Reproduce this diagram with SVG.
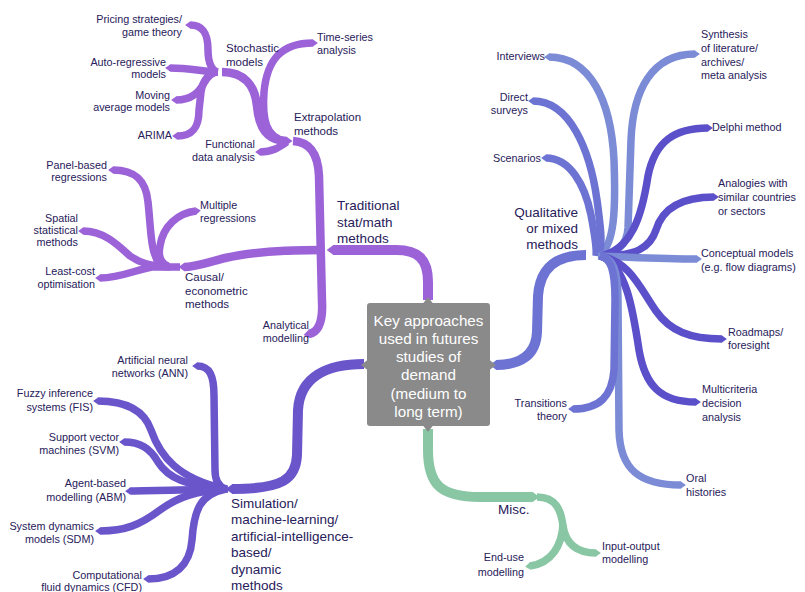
<svg xmlns="http://www.w3.org/2000/svg" width="805" height="592" viewBox="0 0 805 592">
<defs>
<style>
.c{fill:none;stroke-linecap:butt;stroke-linejoin:round}
.tr{stroke:#9c62d8}.sm{stroke:#6a55cb}.q1{stroke:#7b8bd6}.q2{stroke:#6c73d2}.q3{stroke:#5b50c9}.mi{stroke:#88c6a4}
.w1{stroke-width:10}.w2{stroke-width:8.5}.w3{stroke-width:7.5}
text{font-family:"Liberation Sans",Arial,sans-serif;fill:#27205a}
.s{font-size:10.8px}.m{font-size:11.5px}.b{font-size:13.5px}
.e{text-anchor:end}
.box{font-size:15.2px;fill:#ffffff;text-anchor:middle}
</style>
<marker id="mtr" markerUnits="strokeWidth" markerWidth="0.7" markerHeight="1" viewBox="0 0 0.7 1" refX="0.05" refY="0.5" orient="auto-start-reverse"><path d="M0,0 L0.7,0.5 L0,1 Z" fill="#9c62d8"/></marker>
<marker id="msm" markerUnits="strokeWidth" markerWidth="0.7" markerHeight="1" viewBox="0 0 0.7 1" refX="0.05" refY="0.5" orient="auto-start-reverse"><path d="M0,0 L0.7,0.5 L0,1 Z" fill="#6a55cb"/></marker>
<marker id="mq1" markerUnits="strokeWidth" markerWidth="0.7" markerHeight="1" viewBox="0 0 0.7 1" refX="0.05" refY="0.5" orient="auto-start-reverse"><path d="M0,0 L0.7,0.5 L0,1 Z" fill="#7b8bd6"/></marker>
<marker id="mq2" markerUnits="strokeWidth" markerWidth="0.7" markerHeight="1" viewBox="0 0 0.7 1" refX="0.05" refY="0.5" orient="auto-start-reverse"><path d="M0,0 L0.7,0.5 L0,1 Z" fill="#6c73d2"/></marker>
<marker id="mq3" markerUnits="strokeWidth" markerWidth="0.7" markerHeight="1" viewBox="0 0 0.7 1" refX="0.05" refY="0.5" orient="auto-start-reverse"><path d="M0,0 L0.7,0.5 L0,1 Z" fill="#5b50c9"/></marker>
<marker id="mmi" markerUnits="strokeWidth" markerWidth="0.7" markerHeight="1" viewBox="0 0 0.7 1" refX="0.05" refY="0.5" orient="auto-start-reverse"><path d="M0,0 L0.7,0.5 L0,1 Z" fill="#88c6a4"/></marker>
</defs>
<rect width="805" height="592" fill="#ffffff"/>

<g id="connectors">
  <!-- Traditional -->
  <path class="c tr w1" marker-end="url(#mtr)" d="M428,300 L428,282 C428,259 418,250 396,250 L333,250"/>
  <path class="c tr w2" marker-start="url(#mtr)" d="M309,334 C319,332 323,322 322,302 L319,176 C318,154 310,142 293,141"/>
  <path class="c tr w2" marker-end="url(#mtr)" d="M322,250 C285,250 250,252 225,258 C205,263 195,267 184,267"/>
  <path class="c tr w3" marker-start="url(#mtr)" d="M113,170 C135,170 146,180 148,202 C151,228 150,252 160,265"/>
  <path class="c tr w3" marker-start="url(#mtr)" d="M196,211 C178,213 163,226 160,246 C158,256 160,263 168,266"/>
  <path class="c tr w3" marker-start="url(#mtr)" d="M83,231 C104,231 118,245 130,256 C140,263 150,266 170,267"/>
  <path class="c tr w3" marker-start="url(#mtr)" d="M100,278 C120,278 135,270 152,267 L180,267"/>
  <!-- Stochastic -->
  <path class="c tr w3" marker-start="url(#mtr)" d="M190,25 C204,25 208,35 208,50 C208,63 212,71 218,72"/>
  <path class="c tr w3" marker-start="url(#mtr)" d="M170,68 C190,68 205,72 218,72"/>
  <path class="c tr w3" marker-start="url(#mtr)" d="M176,100 C192,100 199,92 204,83 C208,76 213,72 218,72"/>
  <path class="c tr w3" marker-start="url(#mtr)" d="M177,136 C194,136 199,126 199,110 L201,92 C203,79 210,72 218,72"/>
  <path class="c tr w2" marker-end="url(#mtr)" d="M222,72 C244,72 255,85 257,106 C259,130 268,141 287,141"/>
  <path class="c tr w3" marker-start="url(#mtr)" d="M313,43 C281,43 267,60 264,92 C262,120 266,137 285,141"/>
  <path class="c tr w3" marker-start="url(#mtr)" d="M260,152 C272,152 278,148 287,142"/>
  <!-- Simulation -->
  <path class="c sm w1" marker-end="url(#msm)" d="M364,364 C328,364 300,376 298,410 L297,455 C296,479 283,489 232,489"/>
  <path class="c sm w3" marker-start="url(#msm)" d="M197,366 C210,366 214,376 214,396 L215,470 C215,481 219,487 226,489"/>
  <path class="c sm w3" marker-start="url(#msm)" d="M98,401 C125,401 144,410 151,430 C160,456 178,479 226,489"/>
  <path class="c sm w3" marker-start="url(#msm)" d="M124,442 C140,442 150,448 158,462 C168,478 186,486 226,489"/>
  <path class="c sm w3" marker-start="url(#msm)" d="M130,491 C160,490 195,490 228,489"/>
  <path class="c sm w3" marker-start="url(#msm)" d="M100,531 C125,531 140,525 160,510 C178,497 196,491 226,489"/>
  <path class="c sm w3" marker-start="url(#msm)" d="M148,579 C175,579 190,565 192,540 C194,510 200,494 226,489"/>
  <!-- Qualitative -->
  <path class="c q2 w1" marker-end="url(#mq2)" d="M586,255 C556,255 540,268 538,296 L537,332 C536,355 521,365 496,365"/>
  <path class="c q1 w3" marker-start="url(#mq1)" d="M549,57 C590,57 611,100 614,160 C616,212 614,244 600,255"/>
  <path class="c q2 w3" marker-start="url(#mq2)" d="M533,101 C570,101 590,150 597,200 C601,230 603,246 598,255"/>
  <path class="c q2 w3" marker-start="url(#mq2)" d="M546,158 C570,158 585,185 591,215 C595,236 597,249 596,256"/>
  <path class="c q1 w3" marker-start="url(#mq1)" d="M695,54 C652,54 633,90 631,140 L628,228 C627,245 616,255 600,255"/>
  <path class="c q3 w3" marker-start="url(#mq3)" d="M708,128 C675,128 655,141 648,176 C642,215 632,250 600,256"/>
  <path class="c q3 w3" marker-start="url(#mq3)" d="M714,197 C680,197 662,210 656,230 C650,248 636,256 600,256"/>
  <path class="c q1 w3" marker-start="url(#mq1)" d="M697,259 C660,259 630,257 598,256"/>
  <path class="c q3 w3" marker-start="url(#mq3)" d="M722,339 C690,339 670,331 656,311 C641,290 630,261 600,256"/>
  <path class="c q3 w3" marker-start="url(#mq3)" d="M696,402 C660,402 645,385 639,350 C633,310 626,264 600,256"/>
  <path class="c q1 w3" marker-start="url(#mq1)" d="M681,485 C640,485 620,470 619,430 L618,300 C618,270 613,258 600,256"/>
  <path class="c q2 w3" marker-start="url(#mq2)" d="M573,409 C600,409 612,396 614,370 L615,300 C615,270 611,258 600,256"/>
  <!-- Misc -->
  <path class="c mi w1" marker-end="url(#mmi)" d="M428,429 L428,450 C428,485 441,497 480,497 L533,497"/>
  <path class="c mi w3" marker-end="url(#mmi)" d="M537,497 C556,497 561,510 563,526 C566,545 578,553 596,553"/>
  <path class="c mi w3" marker-end="url(#mmi)" d="M563,524 C562,545 552,563 530,566"/>
</g>

<g id="center">
  <rect x="367" y="303" width="123" height="123" rx="3" fill="#8a8a8a"/>
  <polygon points="423,303.5 428,297 433,303.5" fill="#8a8a8a"/>
  <polygon points="367.5,360 361,365 367.5,370" fill="#8a8a8a"/>
  <polygon points="489.5,360 496,365 489.5,370" fill="#8a8a8a"/>
  <polygon points="423,425.5 428,432 433,425.5" fill="#8a8a8a"/>
  <text class="box" x="428.5" y="326">Key approaches</text>
  <text class="box" x="428.5" y="344">used in futures</text>
  <text class="box" x="428.5" y="362">studies of</text>
  <text class="box" x="428.5" y="380">demand</text>
  <text class="box" x="428.5" y="399">(medium to</text>
  <text class="box" x="428.5" y="417">long term)</text>
</g>

<g id="traditional"><text class="b" x="337" y="210">Traditional</text><text class="b" x="337" y="227">stat/math</text><text class="b" x="337" y="243">methods</text></g>
<g id="extrapolation"><text class="m" x="294" y="121">Extrapolation</text><text class="m" x="294" y="135">methods</text></g>
<g id="stochastic"><text class="m" x="226" y="52">Stochastic</text><text class="m" x="226" y="66">models</text></g>
<g id="pricing"><text class="s e" x="182" y="23">Pricing strategies/</text><text class="s e" x="182" y="36">game theory</text></g>
<g id="autoregressive"><text class="s e" x="166" y="66">Auto-regressive</text><text class="s e" x="166" y="78">models</text></g>
<g id="moving-average"><text class="s e" x="170" y="99">Moving</text><text class="s e" x="170" y="111">average models</text></g>
<g id="arima"><text class="s e" x="172" y="139">ARIMA</text></g>
<g id="time-series"><text class="s" x="317" y="41">Time-series</text><text class="s" x="317" y="54">analysis</text></g>
<g id="functional"><text class="s e" x="255" y="148">Functional</text><text class="s e" x="255" y="161">data analysis</text></g>
<g id="causal"><text class="m" x="185" y="281">Causal/</text><text class="m" x="185" y="295">econometric</text><text class="m" x="185" y="308">methods</text></g>
<g id="panel"><text class="s e" x="107" y="169">Panel-based</text><text class="s e" x="107" y="181">regressions</text></g>
<g id="multiple"><text class="s" x="200" y="209">Multiple</text><text class="s" x="200" y="222">regressions</text></g>
<g id="spatial"><text class="s e" x="78" y="222">Spatial</text><text class="s e" x="78" y="234">statistical</text><text class="s e" x="78" y="246">methods</text></g>
<g id="least-cost"><text class="s e" x="95" y="275">Least-cost</text><text class="s e" x="95" y="288">optimisation</text></g>
<g id="analytical"><text class="s e" x="309" y="329">Analytical</text><text class="s e" x="309" y="342">modelling</text></g>

<g id="simulation"><text class="b" x="231" y="508">Simulation/</text><text class="b" x="231" y="524">machine-learning/</text><text class="b" x="231" y="541">artificial-intelligence-</text><text class="b" x="231" y="557">based/</text><text class="b" x="231" y="574">dynamic</text><text class="b" x="231" y="590">methods</text></g>
<g id="ann"><text class="s e" x="188" y="364">Artificial neural</text><text class="s e" x="188" y="377">networks (ANN)</text></g>
<g id="fis"><text class="s e" x="93" y="397">Fuzzy inference</text><text class="s e" x="93" y="411">systems (FIS)</text></g>
<g id="svm"><text class="s e" x="119" y="441">Support vector</text><text class="s e" x="119" y="454">machines (SVM)</text></g>
<g id="abm"><text class="s e" x="126" y="487">Agent-based</text><text class="s e" x="126" y="501">modelling (ABM)</text></g>
<g id="sdm"><text class="s e" x="94" y="530">System dynamics</text><text class="s e" x="94" y="543">models (SDM)</text></g>
<g id="cfd"><text class="s e" x="142" y="579">Computational</text><text class="s e" x="142" y="591">fluid dynamics (CFD)</text></g>

<g id="qualitative"><text class="b e" x="578" y="217">Qualitative</text><text class="b e" x="578" y="233">or mixed</text><text class="b e" x="578" y="249">methods</text></g>
<g id="interviews"><text class="s e" x="545" y="60">Interviews</text></g>
<g id="surveys"><text class="s e" x="528" y="101">Direct</text><text class="s e" x="528" y="114">surveys</text></g>
<g id="scenarios"><text class="s e" x="541" y="162">Scenarios</text></g>
<g id="transitions"><text class="s e" x="567" y="407">Transitions</text><text class="s e" x="567" y="420">theory</text></g>
<g id="synthesis"><text class="s" x="701" y="38">Synthesis</text><text class="s" x="701" y="52">of literature/</text><text class="s" x="701" y="66">archives/</text><text class="s" x="701" y="79">meta analysis</text></g>
<g id="delphi"><text class="s" x="712" y="131">Delphi method</text></g>
<g id="analogies"><text class="s" x="718" y="187">Analogies with</text><text class="s" x="718" y="201">similar countries</text><text class="s" x="718" y="215">or sectors</text></g>
<g id="conceptual"><text class="s" x="701" y="257">Conceptual models</text><text class="s" x="701" y="271">(e.g. flow diagrams)</text></g>
<g id="roadmaps"><text class="s" x="728" y="336">Roadmaps/</text><text class="s" x="728" y="349">foresight</text></g>
<g id="multicriteria"><text class="s" x="702" y="393">Multicriteria</text><text class="s" x="702" y="407">decision</text><text class="s" x="702" y="421">analysis</text></g>
<g id="oral"><text class="s" x="686" y="482">Oral</text><text class="s" x="686" y="496">histories</text></g>

<g id="misc"><text class="b" x="498" y="514">Misc.</text></g>
<g id="input-output"><text class="s" x="602" y="550">Input-output</text><text class="s" x="602" y="563">modelling</text></g>
<g id="end-use"><text class="s e" x="524" y="561">End-use</text><text class="s e" x="524" y="576">modelling</text></g>
</svg>
